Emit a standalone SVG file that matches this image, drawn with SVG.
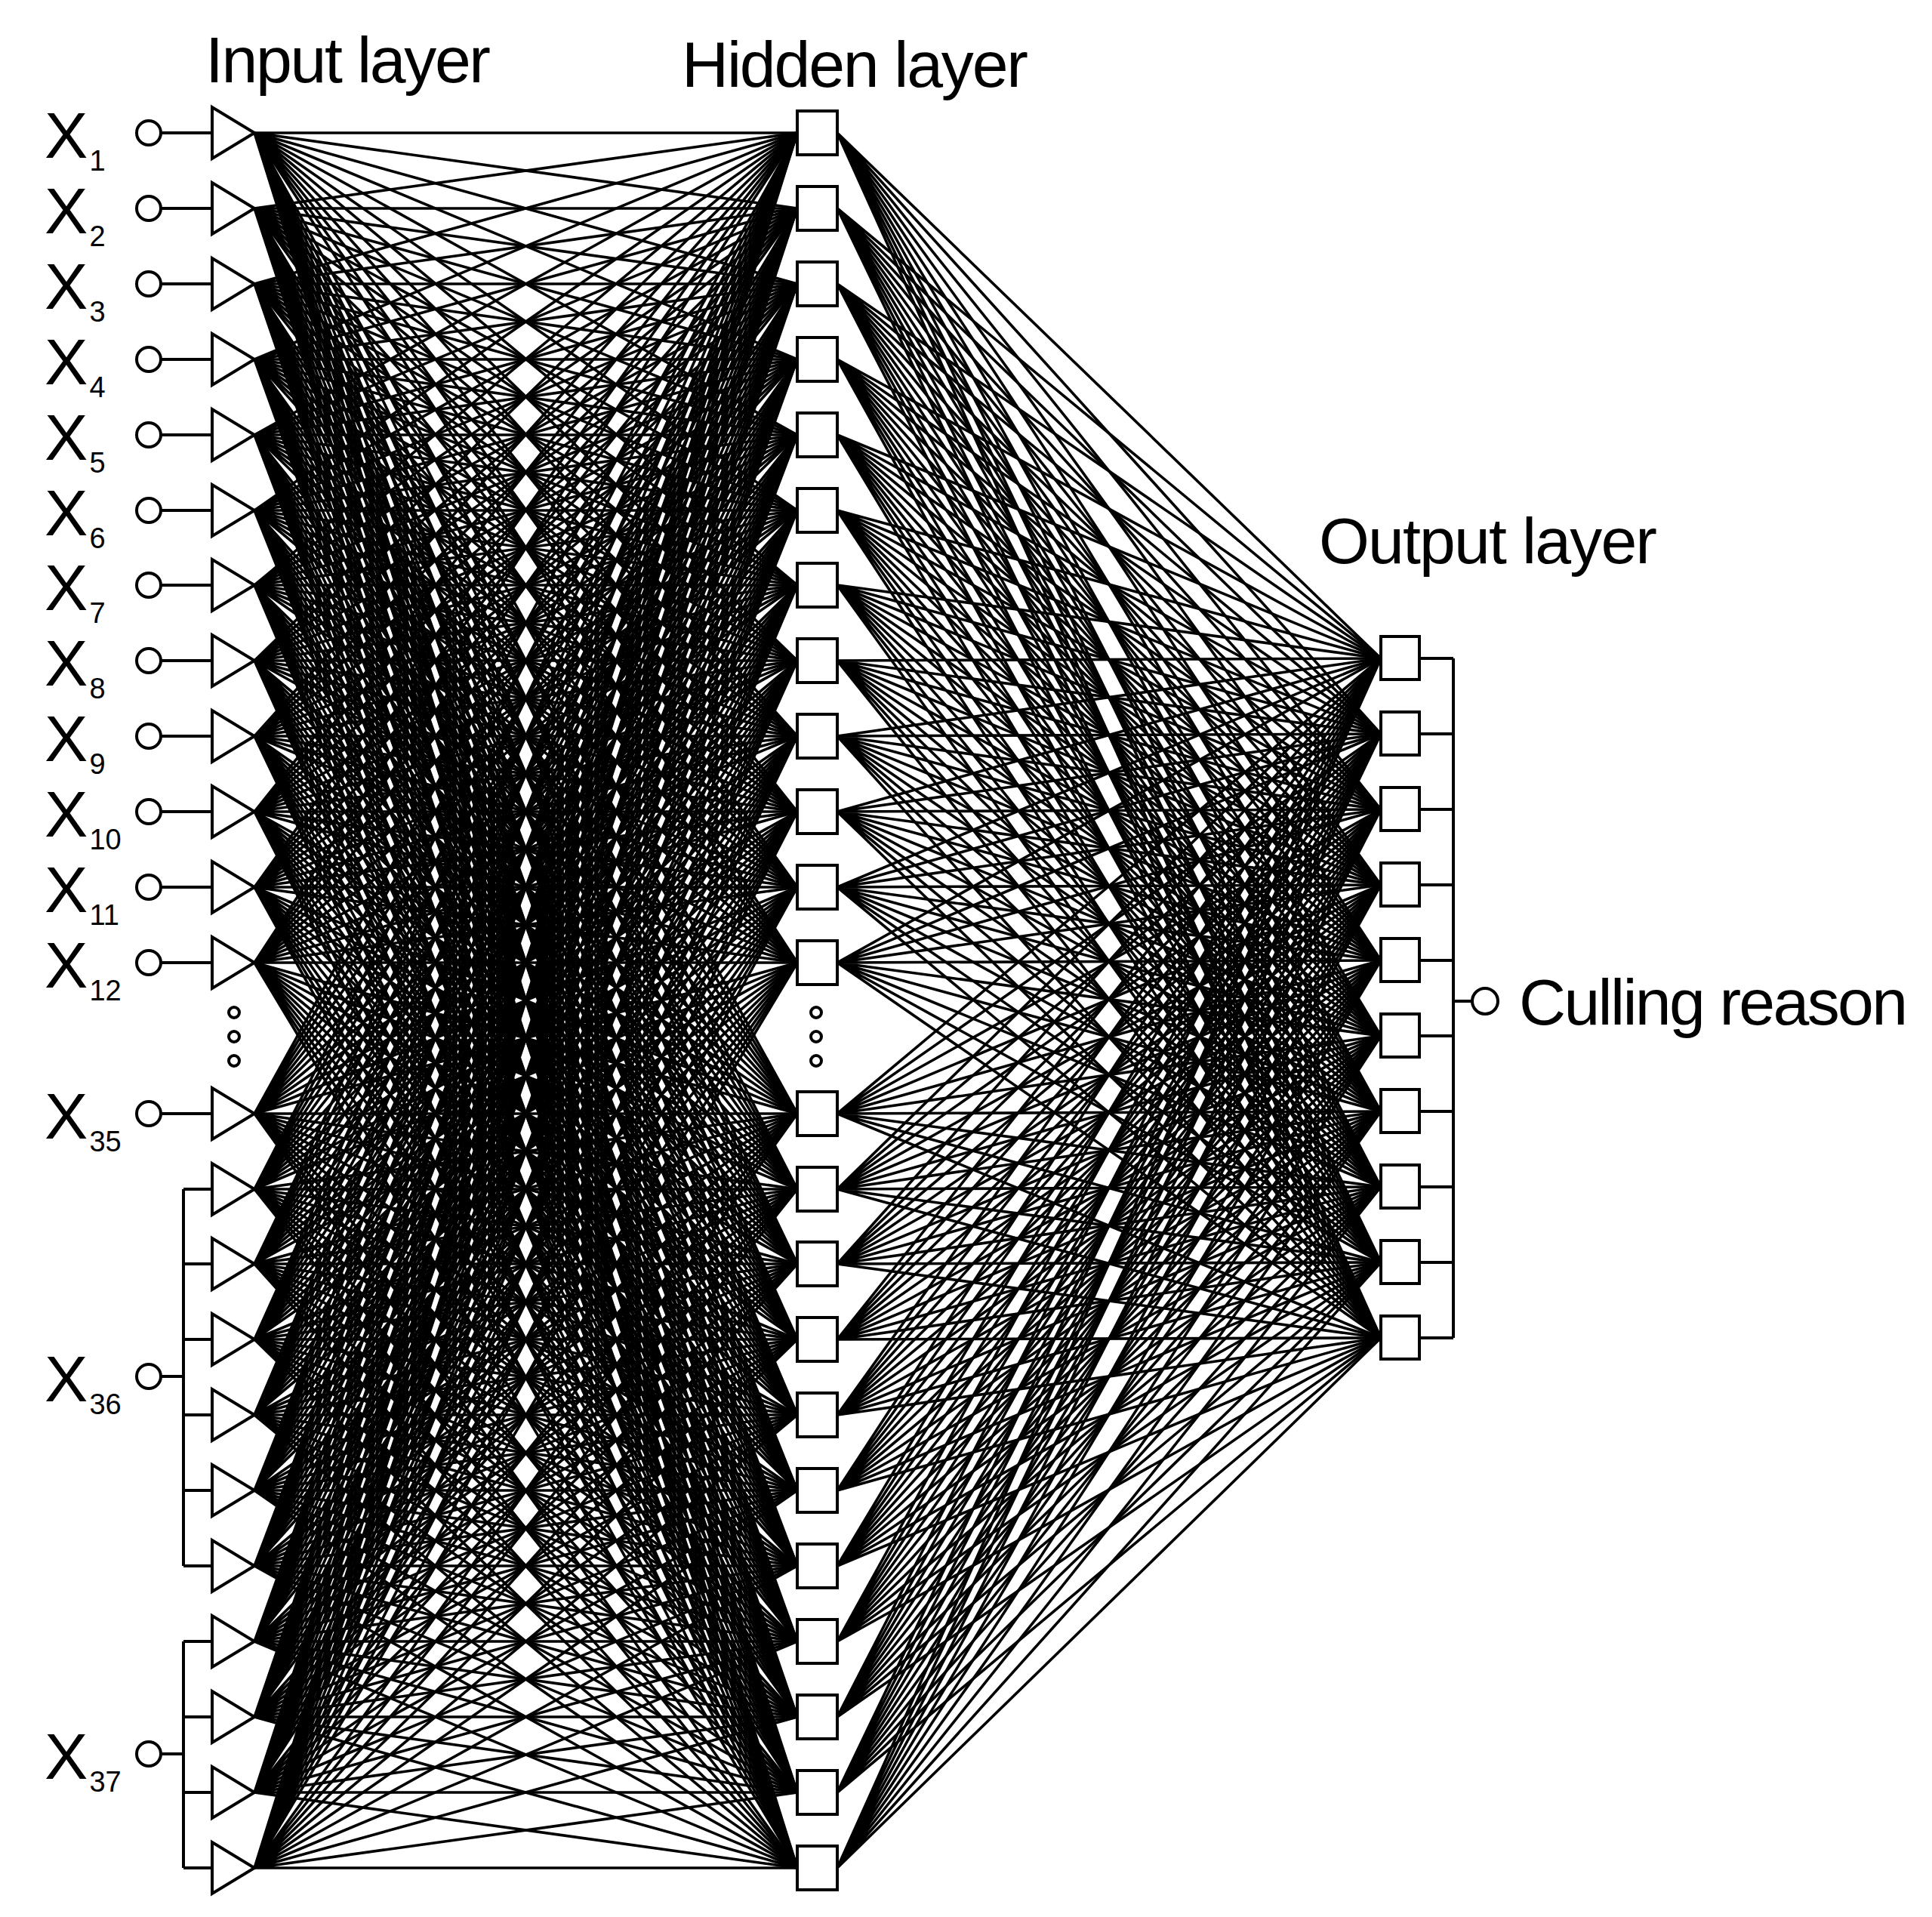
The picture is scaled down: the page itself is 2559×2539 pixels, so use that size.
<svg xmlns="http://www.w3.org/2000/svg" xmlns:xlink="http://www.w3.org/1999/xlink" width="2559" height="2539" viewBox="0 0 2559 2539">
<style>
.t{font-family:"Liberation Sans",Arial,sans-serif;fill:#000}
.lb{font-size:86px}
.sb{font-size:38px}
.n{fill:#fff;stroke:#000;stroke-width:4}
.w{fill:none;stroke:#000;stroke-width:4}
.f{fill:none;stroke:#000;stroke-width:3.6;vector-effect:non-scaling-stroke}
</style>
<defs>
<path id="fanA" class="f" d="M0 0L719 176M0 0L719 276M0 0L719 376M0 0L719 476M0 0L719 576M0 0L719 676M0 0L719 775M0 0L719 875M0 0L719 975M0 0L719 1075M0 0L719 1175M0 0L719 1275M0 0L719 1475M0 0L719 1575M0 0L719 1674M0 0L719 1774M0 0L719 1874M0 0L719 1974M0 0L719 2074M0 0L719 2174M0 0L719 2274M0 0L719 2374M0 0L719 2474"/>
<path id="fanB" class="f" d="M0 0L720 872M0 0L720 972M0 0L720 1072M0 0L720 1172M0 0L720 1272M0 0L720 1372M0 0L720 1472M0 0L720 1572M0 0L720 1672M0 0L720 1772"/>
<polygon id="tri" class="n" points="0,-34 0,34 56,0"/>
<rect id="sq" class="n" x="0" y="-29" width="53" height="58"/>
<rect id="osq" class="n" x="0" y="-29" width="51" height="57"/>
</defs>
<g id="connectors">
<use href="#fanA" transform="matrix(1,-0.24478,0,1,337,176)"/>
<use href="#fanA" transform="matrix(1,-0.38387,0,1,337,276)"/>
<use href="#fanA" transform="matrix(1,-0.52295,0,1,337,376)"/>
<use href="#fanA" transform="matrix(1,-0.66203,0,1,337,476)"/>
<use href="#fanA" transform="matrix(1,-0.80111,0,1,337,576)"/>
<use href="#fanA" transform="matrix(1,-0.94019,0,1,337,676)"/>
<use href="#fanA" transform="matrix(1,-1.07789,0,1,337,775)"/>
<use href="#fanA" transform="matrix(1,-1.21697,0,1,337,875)"/>
<use href="#fanA" transform="matrix(1,-1.35605,0,1,337,975)"/>
<use href="#fanA" transform="matrix(1,-1.49513,0,1,337,1075)"/>
<use href="#fanA" transform="matrix(1,-1.63421,0,1,337,1175)"/>
<use href="#fanA" transform="matrix(1,-1.77330,0,1,337,1275)"/>
<use href="#fanA" transform="matrix(1,-2.05146,0,1,337,1475)"/>
<use href="#fanA" transform="matrix(1,-2.19054,0,1,337,1575)"/>
<use href="#fanA" transform="matrix(1,-2.32823,0,1,337,1674)"/>
<use href="#fanA" transform="matrix(1,-2.46732,0,1,337,1774)"/>
<use href="#fanA" transform="matrix(1,-2.60640,0,1,337,1874)"/>
<use href="#fanA" transform="matrix(1,-2.74548,0,1,337,1974)"/>
<use href="#fanA" transform="matrix(1,-2.88456,0,1,337,2074)"/>
<use href="#fanA" transform="matrix(1,-3.02364,0,1,337,2174)"/>
<use href="#fanA" transform="matrix(1,-3.16273,0,1,337,2274)"/>
<use href="#fanA" transform="matrix(1,-3.30181,0,1,337,2374)"/>
<use href="#fanA" transform="matrix(1,-3.44089,0,1,337,2474)"/>
<use href="#fanB" transform="matrix(1,-0.24444,0,1,1109,176)"/>
<use href="#fanB" transform="matrix(1,-0.38333,0,1,1109,276)"/>
<use href="#fanB" transform="matrix(1,-0.52222,0,1,1109,376)"/>
<use href="#fanB" transform="matrix(1,-0.66111,0,1,1109,476)"/>
<use href="#fanB" transform="matrix(1,-0.8,0,1,1109,576)"/>
<use href="#fanB" transform="matrix(1,-0.93889,0,1,1109,676)"/>
<use href="#fanB" transform="matrix(1,-1.07639,0,1,1109,775)"/>
<use href="#fanB" transform="matrix(1,-1.21528,0,1,1109,875)"/>
<use href="#fanB" transform="matrix(1,-1.35417,0,1,1109,975)"/>
<use href="#fanB" transform="matrix(1,-1.49306,0,1,1109,1075)"/>
<use href="#fanB" transform="matrix(1,-1.63194,0,1,1109,1175)"/>
<use href="#fanB" transform="matrix(1,-1.77083,0,1,1109,1275)"/>
<use href="#fanB" transform="matrix(1,-2.04861,0,1,1109,1475)"/>
<use href="#fanB" transform="matrix(1,-2.1875,0,1,1109,1575)"/>
<use href="#fanB" transform="matrix(1,-2.325,0,1,1109,1674)"/>
<use href="#fanB" transform="matrix(1,-2.46389,0,1,1109,1774)"/>
<use href="#fanB" transform="matrix(1,-2.60278,0,1,1109,1874)"/>
<use href="#fanB" transform="matrix(1,-2.74167,0,1,1109,1974)"/>
<use href="#fanB" transform="matrix(1,-2.88056,0,1,1109,2074)"/>
<use href="#fanB" transform="matrix(1,-3.01944,0,1,1109,2174)"/>
<use href="#fanB" transform="matrix(1,-3.15833,0,1,1109,2274)"/>
<use href="#fanB" transform="matrix(1,-3.29722,0,1,1109,2374)"/>
<use href="#fanB" transform="matrix(1,-3.43611,0,1,1109,2474)"/>
<path class="w" d="M213 176H281M213 276H281M213 376H281M213 476H281M213 576H281M213 676H281M213 775H281M213 875H281M213 975H281M213 1075H281M213 1175H281M213 1275H281M213 1475H281"/>
<path class="w" d="M213 1823H243M243 1575V2074M243 1575H281M243 1674H281M243 1774H281M243 1874H281M243 1974H281M243 2074H281"/>
<path class="w" d="M213 2323H243M243 2174V2474M243 2174H281M243 2274H281M243 2374H281M243 2474H281"/>
<path class="w" d="M1880 872H1925M1880 972H1925M1880 1072H1925M1880 1172H1925M1880 1272H1925M1880 1372H1925M1880 1472H1925M1880 1572H1925M1880 1672H1925M1880 1772H1925M1925 872V1772M1925 1326H1949"/>
</g>
<g id="inputs" class="n">
<circle cx="197" cy="176" r="16"/><circle cx="197" cy="276" r="16"/><circle cx="197" cy="376" r="16"/><circle cx="197" cy="476" r="16"/><circle cx="197" cy="576" r="16"/><circle cx="197" cy="676" r="16"/><circle cx="197" cy="775" r="16"/><circle cx="197" cy="875" r="16"/><circle cx="197" cy="975" r="16"/><circle cx="197" cy="1075" r="16"/><circle cx="197" cy="1175" r="16"/><circle cx="197" cy="1275" r="16"/><circle cx="197" cy="1475" r="16"/><circle cx="197" cy="1823" r="16"/><circle cx="197" cy="2323" r="16"/>
</g>
<g id="input-layer">
<use href="#tri" x="281" y="176"/><use href="#tri" x="281" y="276"/><use href="#tri" x="281" y="376"/><use href="#tri" x="281" y="476"/><use href="#tri" x="281" y="576"/><use href="#tri" x="281" y="676"/><use href="#tri" x="281" y="775"/><use href="#tri" x="281" y="875"/><use href="#tri" x="281" y="975"/><use href="#tri" x="281" y="1075"/><use href="#tri" x="281" y="1175"/><use href="#tri" x="281" y="1275"/><use href="#tri" x="281" y="1475"/><use href="#tri" x="281" y="1575"/><use href="#tri" x="281" y="1674"/><use href="#tri" x="281" y="1774"/><use href="#tri" x="281" y="1874"/><use href="#tri" x="281" y="1974"/><use href="#tri" x="281" y="2074"/><use href="#tri" x="281" y="2174"/><use href="#tri" x="281" y="2274"/><use href="#tri" x="281" y="2374"/><use href="#tri" x="281" y="2474"/>
<circle class="n" cx="310" cy="1341" r="7"/><circle class="n" cx="310" cy="1373" r="7"/><circle class="n" cx="310" cy="1405" r="7"/>
</g>
<g id="hidden-layer">
<use href="#sq" x="1056" y="176"/><use href="#sq" x="1056" y="276"/><use href="#sq" x="1056" y="376"/><use href="#sq" x="1056" y="476"/><use href="#sq" x="1056" y="576"/><use href="#sq" x="1056" y="676"/><use href="#sq" x="1056" y="775"/><use href="#sq" x="1056" y="875"/><use href="#sq" x="1056" y="975"/><use href="#sq" x="1056" y="1075"/><use href="#sq" x="1056" y="1175"/><use href="#sq" x="1056" y="1275"/><use href="#sq" x="1056" y="1475"/><use href="#sq" x="1056" y="1575"/><use href="#sq" x="1056" y="1674"/><use href="#sq" x="1056" y="1774"/><use href="#sq" x="1056" y="1874"/><use href="#sq" x="1056" y="1974"/><use href="#sq" x="1056" y="2074"/><use href="#sq" x="1056" y="2174"/><use href="#sq" x="1056" y="2274"/><use href="#sq" x="1056" y="2374"/><use href="#sq" x="1056" y="2474"/>
<circle class="n" cx="1081" cy="1341" r="7"/><circle class="n" cx="1081" cy="1373" r="7"/><circle class="n" cx="1081" cy="1405" r="7"/>
</g>
<g id="output-layer">
<use href="#osq" x="1829" y="872"/><use href="#osq" x="1829" y="972"/><use href="#osq" x="1829" y="1072"/><use href="#osq" x="1829" y="1172"/><use href="#osq" x="1829" y="1272"/><use href="#osq" x="1829" y="1372"/><use href="#osq" x="1829" y="1472"/><use href="#osq" x="1829" y="1572"/><use href="#osq" x="1829" y="1672"/><use href="#osq" x="1829" y="1772"/>
</g>
<g id="output">
<circle class="n" cx="1967" cy="1326" r="17"/>
<text class="t lb" x="2012" y="1357" textLength="515">Culling reason</text>
</g>
<g id="labels" class="t">
<text class="lb" x="272" y="109" textLength="378">Input layer</text>
<text class="lb" x="903" y="115" textLength="459">Hidden layer</text>
<text class="lb" x="1747" y="746" textLength="448">Output layer</text>
<text class="lb" x="59" y="209">X<tspan class="sb" dx="2" dy="17">1</tspan></text>
<text class="lb" x="59" y="309">X<tspan class="sb" dx="2" dy="17">2</tspan></text>
<text class="lb" x="59" y="409">X<tspan class="sb" dx="2" dy="17">3</tspan></text>
<text class="lb" x="59" y="509">X<tspan class="sb" dx="2" dy="17">4</tspan></text>
<text class="lb" x="59" y="609">X<tspan class="sb" dx="2" dy="17">5</tspan></text>
<text class="lb" x="59" y="709">X<tspan class="sb" dx="2" dy="17">6</tspan></text>
<text class="lb" x="59" y="808">X<tspan class="sb" dx="2" dy="17">7</tspan></text>
<text class="lb" x="59" y="908">X<tspan class="sb" dx="2" dy="17">8</tspan></text>
<text class="lb" x="59" y="1008">X<tspan class="sb" dx="2" dy="17">9</tspan></text>
<text class="lb" x="59" y="1108">X<tspan class="sb" dx="2" dy="17">10</tspan></text>
<text class="lb" x="59" y="1208">X<tspan class="sb" dx="2" dy="17">11</tspan></text>
<text class="lb" x="59" y="1308">X<tspan class="sb" dx="2" dy="17">12</tspan></text>
<text class="lb" x="59" y="1508">X<tspan class="sb" dx="2" dy="17">35</tspan></text>
<text class="lb" x="59" y="1856">X<tspan class="sb" dx="2" dy="17">36</tspan></text>
<text class="lb" x="59" y="2356">X<tspan class="sb" dx="2" dy="17">37</tspan></text>
</g>
</svg>
